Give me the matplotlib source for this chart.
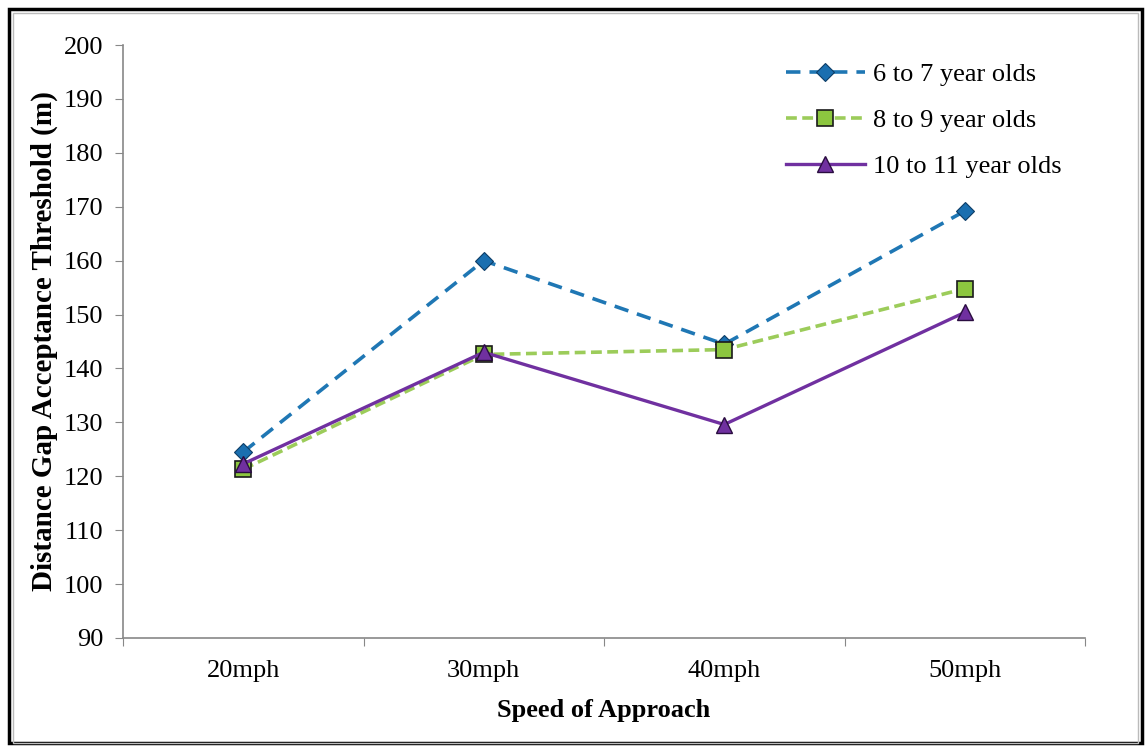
import matplotlib
matplotlib.use("Agg")
import matplotlib.pyplot as plt
from matplotlib.patches import Rectangle

categories = ["20mph", "30mph", "40mph", "50mph"]
series_names = ["6 to 7 year olds", "8 to 9 year olds", "10 to 11 year olds"]
vals_6_7 = [124.5, 160.0, 144.5, 169.2]
vals_8_9 = [121.3, 142.6, 143.5, 154.8]
vals_10_11 = [122.3, 143.0, 129.6, 150.4]
y_ticks = [90, 100, 110, 120, 130, 140, 150, 160, 170, 180, 190, 200]

plt.rcParams['font.family'] = ['Liberation Serif', 'DejaVu Serif']

fig = plt.figure(figsize=(11.46, 7.47), dpi=100)
ax = fig.add_axes([123/1146, 1-638/747, 962/1146, 593/747])

x = list(range(len(categories)))
ax.plot(x, vals_6_7, color='#1f77b4', linestyle=(0, (4, 2.5)), linewidth=2.6,
        marker='D', markersize=9, markerfacecolor='#1a6fb0', markeredgecolor='#0d3d66',
        markeredgewidth=0.8, label=series_names[0], zorder=3)
ax.plot(x, vals_8_9, color='#9ccc5a', linestyle=(0, (3, 1.5)), linewidth=2.6,
        marker='s', markersize=11, markerfacecolor='#8cc63f', markeredgecolor='#1a1a1a',
        markeredgewidth=1.2, label=series_names[1], zorder=3)
ax.plot(x, vals_10_11, color='#7030a0', linestyle='-', linewidth=2.4,
        marker='^', markersize=11, markerfacecolor='#7030a0', markeredgecolor='#2a0d40',
        markeredgewidth=1.0, label=series_names[2], zorder=4)

ax.set_xlim(-0.5, 3.5)
ax.set_ylim(90, 200)
ax.set_yticks(y_ticks)
ax.set_xticks([-0.5, 0.5, 1.5, 2.5, 3.5])
ax.set_xticklabels([])
ax.set_xticks(x, minor=True)
ax.set_xticklabels(categories, minor=True)
ax.tick_params(axis='x', which='minor', length=0, pad=16, labelsize=19)
ax.tick_params(axis='x', which='major', length=6, color='#888888', direction='out')
ax.tick_params(axis='y', length=6, color='#888888', direction='out', labelsize=19, pad=8)

for s in ['top', 'right']:
    ax.spines[s].set_visible(False)
for s in ['left', 'bottom']:
    ax.spines[s].set_color('#888888')
    ax.spines[s].set_linewidth(1.2)

ax.set_xlabel("Speed of Approach", fontsize=19, fontweight='bold', labelpad=12)
ax.set_ylabel("Distance Gap Acceptance Threshold (m)", fontsize=21, fontweight='bold', labelpad=4)

leg = ax.legend(loc='upper right', bbox_to_anchor=(1.0, 1.01), frameon=False, fontsize=19,
                handlelength=3.0, handletextpad=0.3, labelspacing=0.85)

fig.patches.append(Rectangle((9/1146, 4/747), 1133/1146, 734/747, transform=fig.transFigure,
                             fill=False, edgecolor='black', linewidth=2.5))
fig.patches.append(Rectangle((13/1146, 4/747), 1125/1146, 730/747, transform=fig.transFigure,
                             fill=False, edgecolor='#bbbbbb', linewidth=1))

fig.savefig("out.png", dpi=100)
